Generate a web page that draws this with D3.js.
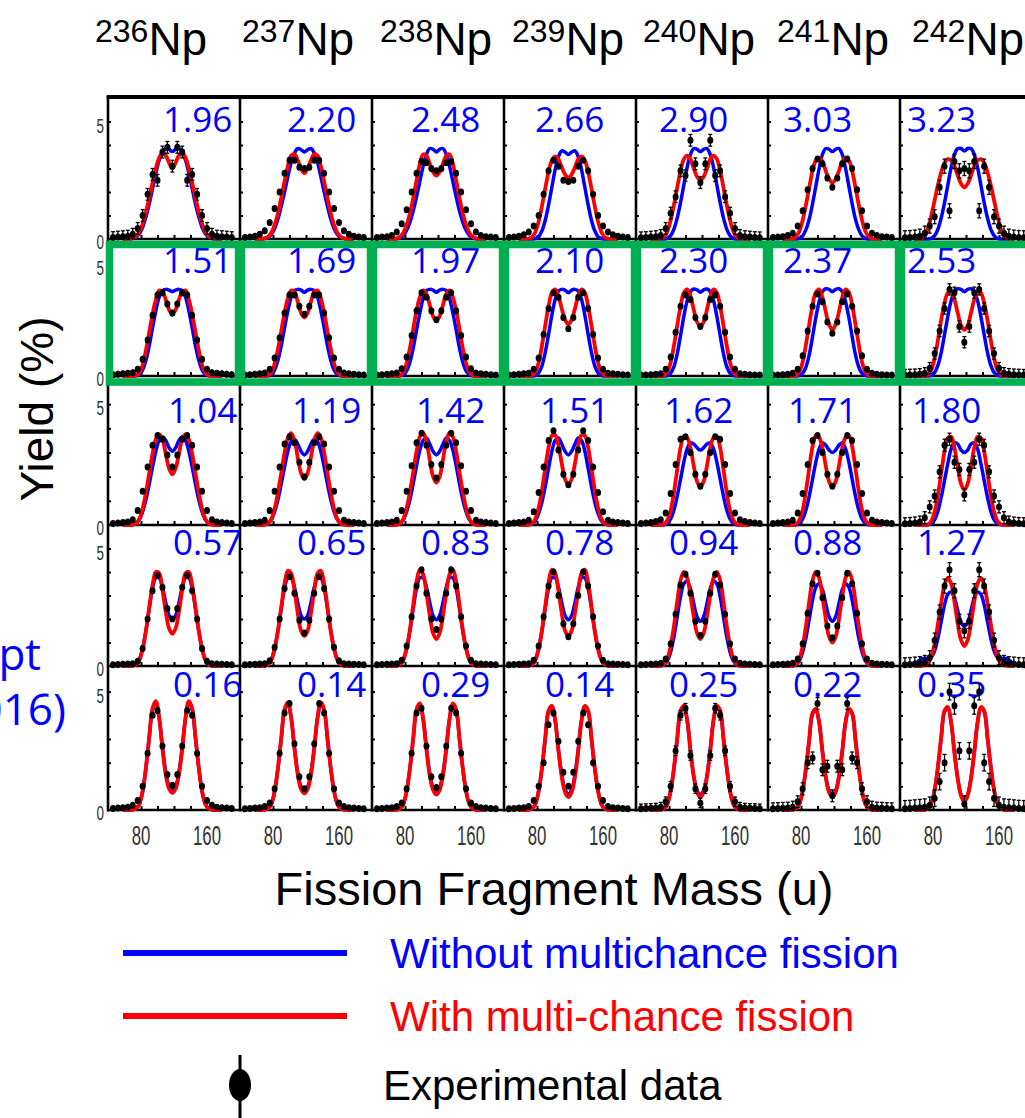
<!DOCTYPE html>
<html>
<head>
<meta charset="utf-8">
<script src="https://cdn.jsdelivr.net/npm/d3@7"></script>
<style>
  html, body { margin: 0; padding: 0; background: #fff; overflow: hidden; }
  svg { display: block; }
</style>
</head>
<body>
<svg id="chart" width="1025" height="1118"></svg>
<script>
// ---- Data -------------------------------------------------------------
// Compound nuclei (columns) and the number printed in each panel (rows x columns)
const nuclides = ["236", "237", "238", "239", "240", "241", "242"];
const panelValues = [
  [1.96, 2.20, 2.48, 2.66, 2.90, 3.03, 3.23],
  [1.51, 1.69, 1.97, 2.10, 2.30, 2.37, 2.53],
  [1.04, 1.19, 1.42, 1.51, 1.62, 1.71, 1.80],
  [0.57, 0.65, 0.83, 0.78, 0.94, 0.88, 1.27],
  [0.16, 0.14, 0.29, 0.14, 0.25, 0.22, 0.35]
];

// Mass grid of the calculated curves (u)
const curveMass = [58,62,66,70,74,78,82,86,90,94,98,102,106,110,114,118,122,126,130,134,138,142,146,150,154,158,162,166,170,174,178];
// Mass grid of the measured yields (u)
const exptMass = [46,52,58,64,70,76,82,88,94,100,106,112,118,124,130,136,142,148,154,160,166,172,178,184,190];

// Calculated yields (%) without multichance fission
const yieldWithout = [
  [
    [0,0,0,.02,.08,.22,.5,.95,1.5,2.15,2.8,3.35,3.7,3.85,3.82,3.72,3.82,3.85,3.7,3.35,2.8,2.15,1.5,.95,.5,.22,.08,.02,0,0,0],
    [0,0,0,.02,.07,.2,.45,.85,1.4,2,2.65,3.25,3.65,3.85,3.8,3.7,3.8,3.85,3.65,3.25,2.65,2,1.4,.85,.45,.2,.07,.02,0,0,0],
    [0,0,0,.01,.05,.15,.37,.72,1.2,1.8,2.45,3.1,3.6,3.85,3.82,3.7,3.82,3.85,3.6,3.1,2.45,1.8,1.2,.72,.37,.15,.05,.01,0,0,0],
    [0,0,0,0,0,.02,.1,.35,.8,1.45,2.2,2.95,3.5,3.75,3.7,3.6,3.7,3.75,3.5,2.95,2.2,1.45,.8,.35,.1,.02,0,0,0,0,0],
    [0,0,0,0,0,.03,.14,.42,.9,1.55,2.3,3.05,3.6,3.85,3.82,3.72,3.82,3.85,3.6,3.05,2.3,1.55,.9,.42,.14,.03,0,0,0,0,0],
    [0,0,0,0,0,.03,.13,.4,.85,1.5,2.25,3,3.6,3.85,3.82,3.72,3.82,3.85,3.6,3,2.25,1.5,.85,.4,.13,.03,0,0,0,0,0],
    [0,0,0,0,0,.03,.14,.42,.9,1.55,2.3,3.05,3.6,3.85,3.85,3.75,3.85,3.85,3.6,3.05,2.3,1.55,.9,.42,.14,.03,0,0,0,0,0]
  ],
  [
    [0,0,0,0,.01,.07,.27,.7,1.35,2.15,2.9,3.5,3.8,3.85,3.82,3.75,3.82,3.85,3.8,3.5,2.9,2.15,1.35,.7,.27,.07,.01,0,0,0,0],
    [0,0,0,0,.01,.07,.27,.7,1.35,2.15,2.9,3.5,3.8,3.85,3.82,3.72,3.82,3.85,3.8,3.5,2.9,2.15,1.35,.7,.27,.07,.01,0,0,0,0],
    [0,0,0,0,.01,.06,.23,.62,1.25,2.05,2.8,3.45,3.8,3.85,3.82,3.72,3.82,3.85,3.8,3.45,2.8,2.05,1.25,.62,.23,.06,.01,0,0,0,0],
    [0,0,0,0,0,.03,.14,.45,1.05,1.85,2.7,3.4,3.78,3.85,3.82,3.7,3.82,3.85,3.78,3.4,2.7,1.85,1.05,.45,.14,.03,0,0,0,0,0],
    [0,0,0,0,0,.03,.13,.42,1,1.8,2.65,3.35,3.75,3.87,3.83,3.72,3.83,3.87,3.75,3.35,2.65,1.8,1,.42,.13,.03,0,0,0,0,0],
    [0,0,0,0,0,.03,.12,.4,.95,1.75,2.6,3.3,3.75,3.88,3.85,3.75,3.85,3.88,3.75,3.3,2.6,1.75,.95,.4,.12,.03,0,0,0,0,0],
    [0,0,0,0,0,.04,.16,.48,1.05,1.85,2.65,3.35,3.75,3.88,3.85,3.75,3.85,3.88,3.75,3.35,2.65,1.85,1.05,.48,.16,.04,0,0,0,0,0]
  ],
  [
    [0,0,0,.01,.06,.22,.55,1.05,1.7,2.4,3.05,3.5,3.65,3.5,3.2,3.05,3.2,3.5,3.65,3.5,3.05,2.4,1.7,1.05,.55,.22,.06,.01,0,0,0],
    [0,0,0,.01,.06,.22,.55,1.05,1.7,2.4,3.05,3.45,3.55,3.35,3.05,2.9,3.05,3.35,3.55,3.45,3.05,2.4,1.7,1.05,.55,.22,.06,.01,0,0,0],
    [0,0,0,.01,.06,.22,.55,1.05,1.72,2.45,3.1,3.5,3.6,3.35,3.05,2.9,3.05,3.35,3.6,3.5,3.1,2.45,1.72,1.05,.55,.22,.06,.01,0,0,0],
    [0,0,0,.01,.05,.18,.48,.95,1.6,2.35,3.05,3.5,3.6,3.35,3.05,2.9,3.05,3.35,3.6,3.5,3.05,2.35,1.6,.95,.48,.18,.05,.01,0,0,0],
    [0,0,0,0,.01,.07,.25,.62,1.2,1.9,2.6,3.15,3.4,3.35,3.2,3.1,3.2,3.35,3.4,3.15,2.6,1.9,1.2,.62,.25,.07,.01,0,0,0,0],
    [0,0,0,0,.01,.07,.25,.62,1.2,1.9,2.6,3.15,3.4,3.3,3.1,3,3.1,3.3,3.4,3.15,2.6,1.9,1.2,.62,.25,.07,.01,0,0,0,0],
    [0,0,0,0,.01,.06,.22,.58,1.15,1.85,2.55,3.15,3.4,3.35,3.1,3,3.1,3.35,3.4,3.15,2.55,1.85,1.15,.58,.22,.06,.01,0,0,0,0]
  ],
  [
    [0,0,0,.01,.07,.28,.75,1.5,2.45,3.3,3.75,3.75,3.35,2.7,2.15,1.97,2.15,2.7,3.35,3.75,3.75,3.3,2.45,1.5,.75,.28,.07,.01,0,0,0],
    [0,0,0,.01,.07,.28,.75,1.5,2.45,3.3,3.75,3.75,3.35,2.7,2.15,2,2.15,2.7,3.35,3.75,3.75,3.3,2.45,1.5,.75,.28,.07,.01,0,0,0],
    [0,0,0,.01,.07,.28,.75,1.5,2.45,3.3,3.75,3.75,3.35,2.7,2.15,1.97,2.15,2.7,3.35,3.75,3.75,3.3,2.45,1.5,.75,.28,.07,.01,0,0,0],
    [0,0,0,.01,.07,.28,.75,1.5,2.45,3.3,3.75,3.75,3.35,2.7,2.15,1.97,2.15,2.7,3.35,3.75,3.75,3.3,2.45,1.5,.75,.28,.07,.01,0,0,0],
    [0,0,0,.01,.05,.22,.6,1.25,2.1,2.95,3.5,3.6,3.3,2.65,2.1,1.9,2.1,2.65,3.3,3.6,3.5,2.95,2.1,1.25,.6,.22,.05,.01,0,0,0],
    [0,0,0,.01,.05,.22,.6,1.2,2,2.8,3.35,3.5,3.25,2.65,2.1,1.9,2.1,2.65,3.25,3.5,3.35,2.8,2,1.2,.6,.22,.05,.01,0,0,0],
    [.08,.2,.3,.33,.32,.38,.65,1.2,1.9,2.6,3.05,3.15,2.9,2.35,1.85,1.7,1.85,2.35,2.9,3.15,3.05,2.6,1.9,1.2,.65,.38,.32,.33,.3,.2,.08]
  ],
  [
    [0,0,0,.01,.06,.25,.8,1.78,3.05,4.25,4.55,3.9,2.65,1.6,1,.85,1,1.6,2.65,3.9,4.55,4.25,3.05,1.78,.8,.25,.06,.01,0,0,0],
    [0,0,0,.01,.06,.25,.8,1.75,3,4.2,4.5,3.9,2.65,1.58,.98,.82,.98,1.58,2.65,3.9,4.5,4.2,3,1.75,.8,.25,.06,.01,0,0,0],
    [0,0,0,.01,.06,.25,.8,1.75,3,4.2,4.45,3.85,2.6,1.55,.95,.78,.95,1.55,2.6,3.85,4.45,4.2,3,1.75,.8,.25,.06,.01,0,0,0],
    [0,0,0,.01,.06,.25,.8,1.75,3,4.15,4.35,3.8,2.55,1.5,.85,.68,.85,1.5,2.55,3.8,4.35,4.15,3,1.75,.8,.25,.06,.01,0,0,0],
    [0,0,0,.01,.06,.25,.8,1.75,3,4.15,4.35,3.8,2.55,1.45,.82,.65,.82,1.45,2.55,3.8,4.35,4.15,3,1.75,.8,.25,.06,.01,0,0,0],
    [0,0,0,.01,.06,.25,.8,1.75,2.95,4.05,4.22,3.7,2.5,1.45,.82,.65,.82,1.45,2.5,3.7,4.22,4.05,2.95,1.75,.8,.25,.06,.01,0,0,0],
    [0,0,0,.01,.07,.28,.85,1.82,3.05,4.15,4.3,3.7,2.45,1.35,.65,.42,.65,1.35,2.45,3.7,4.3,4.15,3.05,1.82,.85,.28,.07,.01,0,0,0]
  ]
];

// Calculated yields (%) with multi-chance fission
const yieldWith = [
  [
    [0,0,.01,.04,.12,.3,.65,1.15,1.75,2.4,3,3.45,3.65,3.55,3.25,3,3.25,3.55,3.65,3.45,3,2.4,1.75,1.15,.65,.3,.12,.04,.01,0,0],
    [0,0,0,.03,.1,.27,.6,1.1,1.75,2.45,3.1,3.55,3.6,3.35,3,2.8,3,3.35,3.6,3.55,3.1,2.45,1.75,1.1,.6,.27,.1,.03,0,0,0],
    [0,0,0,.03,.1,.27,.6,1.1,1.75,2.5,3.2,3.6,3.55,3.2,2.85,2.7,2.85,3.2,3.55,3.6,3.2,2.5,1.75,1.1,.6,.27,.1,.03,0,0,0],
    [0,0,0,.02,.08,.3,.75,1.4,2.15,2.85,3.35,3.52,3.4,3.05,2.75,2.6,2.75,3.05,3.4,3.52,3.35,2.85,2.15,1.4,.75,.3,.08,.02,0,0,0],
    [0,0,0,.02,.09,.32,.8,1.45,2.2,2.9,3.4,3.55,3.4,3,2.65,2.5,2.65,3,3.4,3.55,3.4,2.9,2.2,1.45,.8,.32,.09,.02,0,0,0],
    [0,0,0,.02,.1,.33,.8,1.45,2.2,2.9,3.35,3.45,3.3,2.9,2.55,2.4,2.55,2.9,3.3,3.45,3.35,2.9,2.2,1.45,.8,.33,.1,.02,0,0,0],
    [0,0,.02,.12,.45,1,1.65,2.3,2.85,3.25,3.4,3.35,3.1,2.7,2.35,2.2,2.35,2.7,3.1,3.35,3.4,3.25,2.85,2.3,1.65,1,.45,.12,.02,0,0]
  ],
  [
    [0,0,0,0,.03,.15,.5,1.15,1.95,2.75,3.4,3.8,3.75,3.4,2.95,2.75,2.95,3.4,3.75,3.8,3.4,2.75,1.95,1.15,.5,.15,.03,0,0,0,0],
    [0,0,0,0,.04,.17,.55,1.2,2,2.8,3.45,3.8,3.75,3.3,2.8,2.6,2.8,3.3,3.75,3.8,3.45,2.8,2,1.2,.55,.17,.04,0,0,0,0],
    [0,0,0,0,.04,.18,.58,1.25,2.1,2.9,3.5,3.8,3.65,3.15,2.65,2.45,2.65,3.15,3.65,3.8,3.5,2.9,2.1,1.25,.58,.18,.04,0,0,0,0],
    [0,0,0,0,.04,.18,.6,1.35,2.25,3.1,3.7,3.85,3.55,3,2.5,2.3,2.5,3,3.55,3.85,3.7,3.1,2.25,1.35,.6,.18,.04,0,0,0,0],
    [0,0,0,0,.04,.18,.6,1.35,2.25,3.1,3.7,3.85,3.55,2.95,2.4,2.2,2.4,2.95,3.55,3.85,3.7,3.1,2.25,1.35,.6,.18,.04,0,0,0,0],
    [0,0,0,0,.04,.19,.62,1.4,2.3,3.15,3.72,3.85,3.5,2.85,2.3,2.05,2.3,2.85,3.5,3.85,3.72,3.15,2.3,1.4,.62,.19,.04,0,0,0,0],
    [0,0,0,.01,.06,.28,.8,1.6,2.5,3.25,3.7,3.75,3.4,2.8,2.25,2.05,2.25,2.8,3.4,3.75,3.7,3.25,2.5,1.6,.8,.28,.06,.01,0,0,0]
  ],
  [
    [0,0,0,.01,.06,.25,.68,1.35,2.15,2.95,3.55,3.75,3.55,2.95,2.35,2.1,2.35,2.95,3.55,3.75,3.55,2.95,2.15,1.35,.68,.25,.06,.01,0,0,0],
    [0,0,0,.01,.06,.25,.68,1.35,2.15,3,3.6,3.8,3.5,2.8,2.15,1.9,2.15,2.8,3.5,3.8,3.6,3,2.15,1.35,.68,.25,.06,.01,0,0,0],
    [0,0,0,.01,.06,.26,.7,1.38,2.2,3.05,3.65,3.82,3.45,2.7,2,1.75,2,2.7,3.45,3.82,3.65,3.05,2.2,1.38,.7,.26,.06,.01,0,0,0],
    [0,0,0,.01,.06,.26,.72,1.45,2.35,3.2,3.7,3.72,3.3,2.55,1.9,1.67,1.9,2.55,3.3,3.72,3.7,3.2,2.35,1.45,.72,.26,.06,.01,0,0,0],
    [0,0,0,0,.04,.2,.6,1.35,2.3,3.2,3.67,3.62,3.2,2.45,1.8,1.58,1.8,2.45,3.2,3.62,3.67,3.2,2.3,1.35,.6,.2,.04,0,0,0,0],
    [0,0,0,0,.04,.2,.62,1.4,2.35,3.25,3.7,3.62,3.2,2.45,1.8,1.58,1.8,2.45,3.2,3.62,3.7,3.25,2.35,1.4,.62,.2,.04,0,0,0,0],
    [0,0,0,0,.03,.17,.55,1.25,2.15,3.05,3.6,3.65,3.2,2.4,1.7,1.45,1.7,2.4,3.2,3.65,3.6,3.05,2.15,1.25,.55,.17,.03,0,0,0,0]
  ],
  [
    [0,0,0,.01,.06,.25,.72,1.5,2.5,3.45,4,3.95,3.25,2.3,1.6,1.37,1.6,2.3,3.25,3.95,4,3.45,2.5,1.5,.72,.25,.06,.01,0,0,0],
    [0,0,0,.01,.06,.25,.72,1.5,2.5,3.5,4.05,3.95,3.2,2.25,1.5,1.28,1.5,2.25,3.2,3.95,4.05,3.5,2.5,1.5,.72,.25,.06,.01,0,0,0],
    [0,0,0,.01,.06,.26,.75,1.55,2.6,3.6,4.1,3.9,3.1,2.15,1.4,1.15,1.4,2.15,3.1,3.9,4.1,3.6,2.6,1.55,.75,.26,.06,.01,0,0,0],
    [0,0,0,.01,.06,.25,.72,1.5,2.55,3.55,4.1,3.95,3.2,2.25,1.5,1.28,1.5,2.25,3.2,3.95,4.1,3.55,2.55,1.5,.72,.25,.06,.01,0,0,0],
    [0,0,0,.01,.07,.3,.85,1.7,2.75,3.65,4,3.75,3,2.1,1.4,1.15,1.4,2.1,3,3.75,4,3.65,2.75,1.7,.85,.3,.07,.01,0,0,0],
    [0,0,0,.01,.07,.3,.85,1.7,2.75,3.65,4,3.75,2.95,2,1.25,1,1.25,2,2.95,3.75,4,3.65,2.75,1.7,.85,.3,.07,.01,0,0,0],
    [0,0,.01,.03,.12,.4,.95,1.8,2.7,3.45,3.75,3.5,2.75,1.8,1.1,.85,1.1,1.8,2.75,3.5,3.75,3.45,2.7,1.8,.95,.4,.12,.03,.01,0,0]
  ],
  [
    [0,0,0,.01,.06,.25,.8,1.8,3.1,4.3,4.6,3.9,2.6,1.5,.9,.72,.9,1.5,2.6,3.9,4.6,4.3,3.1,1.8,.8,.25,.06,.01,0,0,0],
    [0,0,0,.01,.06,.25,.8,1.78,3.05,4.25,4.55,3.9,2.6,1.5,.88,.7,.88,1.5,2.6,3.9,4.55,4.25,3.05,1.78,.8,.25,.06,.01,0,0,0],
    [0,0,0,.01,.06,.25,.8,1.78,3.05,4.25,4.5,3.85,2.55,1.45,.85,.65,.85,1.45,2.55,3.85,4.5,4.25,3.05,1.78,.8,.25,.06,.01,0,0,0],
    [0,0,0,.01,.06,.25,.8,1.78,3.05,4.2,4.4,3.8,2.5,1.4,.75,.55,.75,1.4,2.5,3.8,4.4,4.2,3.05,1.78,.8,.25,.06,.01,0,0,0],
    [0,0,0,.01,.06,.25,.8,1.78,3.05,4.2,4.4,3.8,2.5,1.4,.75,.55,.75,1.4,2.5,3.8,4.4,4.2,3.05,1.78,.8,.25,.06,.01,0,0,0],
    [0,0,0,.01,.06,.25,.8,1.78,3,4.1,4.27,3.7,2.45,1.38,.75,.55,.75,1.38,2.45,3.7,4.27,4.1,3,1.78,.8,.25,.06,.01,0,0,0],
    [0,0,0,.01,.07,.28,.85,1.85,3.1,4.2,4.35,3.7,2.4,1.3,.6,.35,.6,1.3,2.4,3.7,4.35,4.2,3.1,1.85,.85,.28,.07,.01,0,0,0]
  ]
];

// Measured yields (%)
const yieldExpt = [
  [
    [.06,.08,.1,.12,.2,.45,1,1.9,2.75,2.5,3.7,3.9,3.1,3.9,3.7,2.5,2.75,1.9,1,.45,.2,.12,.1,.08,.06],
    [.06,.08,.12,.2,.35,.7,1.3,2,2.8,3.35,3.35,3.05,3,3.05,3.35,3.35,2.8,2,1.3,.7,.35,.2,.12,.08,.06],
    [.06,.08,.1,.15,.3,.65,1.25,2,2.8,3.3,3.25,3,2.9,3,3.25,3.3,2.8,2,1.25,.65,.3,.15,.1,.08,.06],
    [.06,.08,.12,.18,.3,.55,1,1.9,2.9,3.35,3.1,2.5,2.45,2.5,3.1,3.35,2.9,1.9,1,.55,.3,.18,.12,.08,.06],
    [.05,.06,.08,.1,.15,.45,1.1,1.8,2.9,2.7,4.2,3.2,2.4,3.2,4.2,2.7,2.9,1.8,1.1,.45,.15,.1,.08,.06,.05],
    [.06,.08,.1,.15,.25,.55,1.2,2.1,3,3.4,3.2,2.6,2.2,2.6,3.2,3.4,3,2.1,1.2,.55,.25,.15,.1,.08,.06],
    [.05,.06,.08,.12,.25,.55,.95,2.2,3.1,1.2,3.3,2.9,3,2.9,3.3,1.2,3.1,2.2,.95,.55,.25,.12,.08,.06,.05]
  ],
  [
    [.06,.08,.1,.12,.15,.3,.75,1.6,2.7,3.6,3.7,3.2,2.8,3.2,3.7,3.6,2.7,1.6,.75,.3,.15,.12,.1,.08,.06],
    [.05,.06,.08,.1,.13,.3,.8,1.7,2.8,3.6,3.6,3.1,2.75,3.1,3.6,3.6,2.8,1.7,.8,.3,.13,.1,.08,.06,.05],
    [.05,.06,.08,.1,.13,.32,.85,1.8,2.9,3.7,3.5,2.9,2.5,2.9,3.5,3.7,2.9,1.8,.85,.32,.13,.1,.08,.06,.05],
    [.05,.06,.08,.1,.12,.3,.8,1.85,3,3.7,3.5,2.6,2.1,2.6,3.5,3.7,3,1.85,.8,.3,.12,.1,.08,.06,.05],
    [.04,.05,.06,.08,.1,.3,.85,1.95,3.1,3.6,3.4,2.6,2.2,2.6,3.4,3.6,3.1,1.95,.85,.3,.1,.08,.06,.05,.04],
    [.04,.05,.06,.08,.12,.3,.9,2,3.1,3.65,3.3,2.4,1.9,2.4,3.3,3.65,3.1,2,.9,.3,.12,.08,.06,.05,.04],
    [.04,.05,.06,.08,.12,.35,1,2,3,3.85,3.7,2.2,1.5,2.2,3.7,3.85,3,2,1,.35,.12,.08,.06,.05,.04]
  ],
  [
    [.06,.08,.1,.12,.22,.6,1.4,2.4,3.3,3.7,3.55,2.9,2.4,2.9,3.55,3.7,3.3,2.4,1.4,.6,.22,.12,.1,.08,.06],
    [.06,.08,.1,.12,.2,.6,1.4,2.4,3.35,3.65,3.4,2.6,2,2.6,3.4,3.65,3.35,2.4,1.4,.6,.2,.12,.1,.08,.06],
    [.06,.08,.1,.12,.2,.6,1.4,2.45,3.4,3.8,3.3,2.5,1.95,2.5,3.3,3.8,3.4,2.45,1.4,.6,.2,.12,.1,.08,.06],
    [.06,.08,.1,.12,.2,.55,1.35,2.4,3.5,3.9,3.1,2.1,1.67,2.1,3.1,3.9,3.5,2.4,1.35,.55,.2,.12,.1,.08,.06],
    [.06,.08,.1,.14,.22,.5,1.3,2.5,3.55,3.65,3,2.1,1.6,2.1,3,3.65,3.55,2.5,1.3,.5,.22,.14,.1,.08,.06],
    [.06,.08,.1,.12,.2,.5,1.3,2.5,3.5,3.7,3,2.1,1.6,2.1,3,3.7,3.5,2.5,1.3,.5,.2,.12,.1,.08,.06],
    [.05,.06,.08,.12,.3,.75,1.2,2.2,3.3,3.55,2.6,2.3,1.25,2.3,2.6,3.55,3.3,2.2,1.2,.75,.3,.12,.08,.06,.05]
  ],
  [
    [.05,.06,.07,.08,.1,.2,.75,2,3.2,3.85,3.35,2.45,2,2.45,3.35,3.85,3.2,2,.75,.2,.1,.08,.07,.06,.05],
    [.05,.06,.07,.08,.1,.22,.8,2,3.3,3.8,3.1,1.95,1.4,1.95,3.1,3.8,3.3,2,.8,.22,.1,.08,.07,.06,.05],
    [.05,.06,.07,.08,.1,.25,.85,2.1,3.4,4.1,3.1,2,1.55,2,3.1,4.1,3.4,2.1,.85,.25,.1,.08,.07,.06,.05],
    [.05,.06,.07,.08,.1,.25,.85,2.1,3.4,4,3,1.8,1.25,1.8,3,4,3.4,2.1,.85,.25,.1,.08,.07,.06,.05],
    [.05,.06,.07,.08,.12,.3,.95,2.2,3.45,3.9,3.1,1.9,1.3,1.9,3.1,3.9,3.45,2.2,.95,.3,.12,.08,.07,.06,.05],
    [.05,.06,.07,.08,.12,.3,.95,2.25,3.5,3.95,2.9,1.7,1.2,1.7,2.9,3.95,3.5,2.25,.95,.3,.12,.08,.07,.06,.05],
    [.05,.06,.08,.1,.15,.35,1.1,2.3,3.4,4.1,3.2,1.9,1.5,1.9,3.2,4.1,3.4,2.3,1.1,.35,.15,.1,.08,.06,.05]
  ],
  [
    [.06,.08,.1,.12,.2,.4,1,2.4,4,4.2,2.7,1.5,1.05,1.5,2.7,4.2,4,2.4,1,.4,.2,.12,.1,.08,.06],
    [.05,.06,.08,.1,.15,.3,.9,2.4,4.1,4.5,2.8,1.4,.9,1.4,2.8,4.5,4.1,2.4,.9,.3,.15,.1,.08,.06,.05],
    [.05,.06,.08,.1,.15,.3,.9,2.4,4.1,4.3,2.7,1.4,.95,1.4,2.7,4.3,4.1,2.4,.9,.3,.15,.1,.08,.06,.05],
    [.05,.06,.08,.1,.15,.4,1,2,3.6,4.1,2.9,1.6,1,1.6,2.9,4.1,3.6,2,1,.4,.15,.1,.08,.06,.05],
    [.05,.06,.07,.08,.12,.35,1,2.5,4,4.3,2.3,.9,.3,.9,2.3,4.3,4,2.5,1,.35,.12,.08,.07,.06,.05],
    [.05,.06,.07,.08,.12,.35,.9,2,2.2,4.5,1.7,1.85,.6,1.85,1.7,4.5,2.2,2,.9,.35,.12,.08,.07,.06,.05],
    [.05,.06,.08,.1,.12,.2,.5,1.2,2,5,4.4,2.5,.25,2.5,4.4,5,2,1.2,.5,.2,.12,.1,.08,.06,.05]
  ]
];

// Uncertainty (%) of the measured yields in each panel
const exptError = [
  [0.25, 0.08, 0.08, 0.08, 0.25, 0.08, 0.30],
  [0.15, 0.08, 0.08, 0.08, 0.08, 0.08, 0.25],
  [0.08, 0.08, 0.08, 0.08, 0.08, 0.08, 0.25],
  [0.08, 0.08, 0.08, 0.08, 0.08, 0.10, 0.30],
  [0.08, 0.08, 0.08, 0.08, 0.20, 0.25, 0.35]
];

const massTickLabels = [80, 160];
const massTickMarks = [80, 100, 120, 140, 160];
const yieldTickLabels = [0, 5];
const yieldTickMarks = [1, 2, 3, 4, 5];

// ---- Layout -----------------------------------------------------------
const W = 1025, H = 1118;
const colLeft0 = 108, colW = 132;
const rowTop = [98, 241, 380, 525, 668];
const rowZero = [239, 376, 525, 666, 810];
const massDomain = [40, 200];
const yieldDomain = [0, 6];
const valueLabelX0 = [163, 163, 168, 173, 173];
const valueLabelStep = 124;
const valueLabelBaseline = [132, 273, 423, 555, 697];
const headerShift = [-13, 2, 8, 8, 7, 9, 12];

const BLUE = "#0000ff", RED = "#ff0000", GREEN = "#00b050";
const sans = "'Liberation Sans', Arial, sans-serif";

const svg = d3.select("#chart");
svg.append("rect").attr("width", W).attr("height", H).attr("fill", "#fff");

const xOf = c => d3.scaleLinear().domain(massDomain)
  .range([colLeft0 + c * colW, colLeft0 + (c + 1) * colW]);
const yOf = r => d3.scaleLinear().domain(yieldDomain).range([rowZero[r], rowTop[r]]);

const panels = [];
for (let r = 0; r < 5; r++) for (let c = 0; c < 7; c++) panels.push({ r, c, x: xOf(c), y: yOf(r) });

// ---- Frames and ticks -------------------------------------------------
const frame = svg.append("g").attr("stroke", "#000").attr("fill", "none");
for (let c = 0; c < 7; c++) {
  const xl = colLeft0 + c * colW;
  frame.append("line").attr("x1", xl).attr("x2", xl).attr("y1", 96).attr("y2", 811.5).attr("stroke-width", 2.6);
}
rowZero.forEach(z => {
  frame.append("line").attr("x1", colLeft0 - 1).attr("x2", W).attr("y1", z).attr("y2", z).attr("stroke-width", 2.6);
});
frame.append("line").attr("x1", colLeft0 - 1.3).attr("x2", W).attr("y1", 97).attr("y2", 97).attr("stroke-width", 3.8);

panels.forEach(p => {
  const gy = svg.append("g").attr("transform", `translate(${p.x.range()[0]},0)`)
    .call(d3.axisRight(p.y).tickValues(yieldTickMarks).tickSize(3).tickFormat(""));
  gy.select(".domain").remove();
  gy.selectAll("line").attr("stroke", "#000").attr("stroke-width", 2);
  const gx = svg.append("g").attr("transform", `translate(0,${rowZero[p.r]})`)
    .call(d3.axisTop(p.x).tickValues(massTickMarks).tickSize(4).tickFormat(""));
  gx.select(".domain").remove();
  gx.selectAll("line").attr("stroke", "#000").attr("stroke-width", 2);
});

// ---- Calculated curves ------------------------------------------------
const curveLine = p => d3.line()
  .x((d, i) => p.x(curveMass[i]))
  .y(d => p.y(d))
  .curve(d3.curveCatmullRom.alpha(0.5));

svg.append("g").selectAll("path").data(panels).join("path")
  .attr("d", p => curveLine(p)(yieldWithout[p.r][p.c]))
  .attr("fill", "none").attr("stroke", BLUE).attr("stroke-width", 3.5)
  .attr("stroke-linejoin", "round");

svg.append("g").selectAll("path").data(panels).join("path")
  .attr("d", p => curveLine(p)(yieldWith[p.r][p.c]))
  .attr("fill", "none").attr("stroke", RED).attr("stroke-width", 3.8)
  .attr("stroke-linejoin", "round");

// ---- Panel values -----------------------------------------------------
svg.append("g").selectAll("text").data(panels).join("text")
  .attr("x", p => valueLabelX0[p.r] + valueLabelStep * p.c)
  .attr("y", p => valueLabelBaseline[p.r])
  .attr("font-family", "'Open Sans', 'Noto Sans', sans-serif")
  .attr("font-size", 35)
  .attr("fill", BLUE)
  .text(p => panelValues[p.r][p.c].toFixed(2));

// ---- Measured points with error bars ----------------------------------
panels.forEach(p => {
  const g = svg.append("g");
  const err = exptError[p.r][p.c];
  const pts = yieldExpt[p.r][p.c].map((v, i) => ({ m: exptMass[i], v }));
  g.selectAll("line.bar").data(pts).join("line").attr("class", "bar")
    .attr("x1", d => p.x(d.m)).attr("x2", d => p.x(d.m))
    .attr("y1", d => p.y(Math.max(0, d.v - err))).attr("y2", d => p.y(d.v + err))
    .attr("stroke", "#000").attr("stroke-width", 1.3);
  if (err > 0.15) {
    ["lo", "hi"].forEach(side => {
      g.selectAll("line.cap" + side).data(pts).join("line").attr("class", "cap" + side)
        .attr("x1", d => p.x(d.m) - 2).attr("x2", d => p.x(d.m) + 2)
        .attr("y1", d => p.y(side === "hi" ? d.v + err : Math.max(0, d.v - err)))
        .attr("y2", d => p.y(side === "hi" ? d.v + err : Math.max(0, d.v - err)))
        .attr("stroke", "#000").attr("stroke-width", 1.3);
    });
  }
  g.selectAll("ellipse").data(pts).join("ellipse")
    .attr("cx", d => p.x(d.m)).attr("cy", d => p.y(d.v))
    .attr("rx", 3).attr("ry", 3.5).attr("fill", "#000");
});

// ---- Highlighted row --------------------------------------------------
svg.append("g").selectAll("rect").data(panels.filter(p => p.r === 1)).join("rect")
  .attr("x", p => p.x.range()[0] + 1.5).attr("y", 244.5)
  .attr("width", colW - 3).attr("height", 137.5)
  .attr("fill", "none").attr("stroke", GREEN).attr("stroke-width", 7.5);

// ---- Tick labels ------------------------------------------------------
const tickFill = "#333";
for (let r = 0; r < 5; r++) {
  const y = yOf(r);
  yieldTickLabels.forEach(v => {
    svg.append("g").attr("transform", `translate(104,${y(v) + (v === 0 ? 10 : 11)})`)
      .append("text").attr("transform", "scale(0.64,1)")
      .attr("text-anchor", "end").attr("font-family", sans).attr("font-size", 21)
      .attr("fill", tickFill).text(v);
  });
}
for (let c = 0; c < 7; c++) {
  const x = xOf(c);
  massTickLabels.forEach(m => {
    svg.append("g").attr("transform", `translate(${x(m)},845)`)
      .append("text").attr("transform", "scale(0.6,1)")
      .attr("text-anchor", "middle").attr("font-family", sans).attr("font-size", 28)
      .attr("fill", tickFill).text(m);
  });
}

// ---- Column headers ---------------------------------------------------
nuclides.forEach((a, c) => {
  const t = svg.append("text").attr("x", colLeft0 + c * colW + headerShift[c]).attr("y", 55)
    .attr("font-family", sans).attr("fill", "#000");
  t.append("tspan").attr("font-size", 32).attr("dy", -13).text(a);
  t.append("tspan").attr("font-size", 46).attr("dy", 13).text("Np");
});

// ---- Axis titles ------------------------------------------------------
svg.append("text").attr("transform", "translate(53,409) rotate(-90)")
  .attr("text-anchor", "middle").attr("font-family", sans).attr("font-size", 46)
  .text("Yield (%)");
svg.append("text").attr("x", 554).attr("y", 905)
  .attr("text-anchor", "middle").attr("font-family", sans).attr("font-size", 47)
  .text("Fission Fragment Mass (u)");

// Side note in the left margin
svg.append("text").attr("x", 41).attr("y", 670).attr("text-anchor", "end")
  .attr("font-family", "'Open Sans', sans-serif").attr("font-size", 44).attr("fill", BLUE).text("Expt");
svg.append("text").attr("x", 66).attr("y", 725).attr("text-anchor", "end")
  .attr("font-family", "'Open Sans', sans-serif").attr("font-size", 44).attr("fill", BLUE).text("(2016)");

// ---- Legend -----------------------------------------------------------
const legend = svg.append("g");
legend.append("line").attr("x1", 123).attr("x2", 347).attr("y1", 953).attr("y2", 953)
  .attr("stroke", BLUE).attr("stroke-width", 6);
legend.append("text").attr("x", 390).attr("y", 968).attr("font-family", sans).attr("font-size", 42)
  .attr("fill", BLUE).text("Without multichance fission");
legend.append("line").attr("x1", 123).attr("x2", 347).attr("y1", 1016).attr("y2", 1016)
  .attr("stroke", RED).attr("stroke-width", 6);
legend.append("text").attr("x", 390).attr("y", 1031).attr("font-family", sans).attr("font-size", 42)
  .attr("fill", RED).text("With multi-chance fission");
legend.append("line").attr("x1", 240).attr("x2", 240).attr("y1", 1055).attr("y2", 1118)
  .attr("stroke", "#000").attr("stroke-width", 3);
legend.append("ellipse").attr("cx", 240).attr("cy", 1085).attr("rx", 11).attr("ry", 16).attr("fill", "#000");
legend.append("text").attr("x", 383).attr("y", 1100).attr("font-family", sans).attr("font-size", 42)
  .attr("fill", "#000").text("Experimental data");
</script>
</body>
</html>
